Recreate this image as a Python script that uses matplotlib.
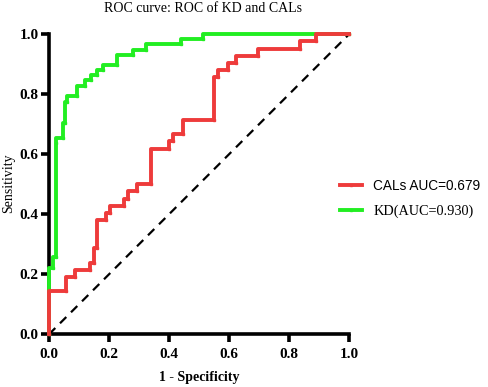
import matplotlib
matplotlib.use("Agg")
import matplotlib.pyplot as plt
from matplotlib.lines import Line2D

# ROC data (1 - specificity, sensitivity)
kd_fpr = [0.0, 0.0, 0.013, 0.013, 0.025, 0.025, 0.047, 0.047, 0.052, 0.052,
          0.060, 0.060, 0.093, 0.093, 0.119, 0.119, 0.141, 0.141, 0.160, 0.160,
          0.180, 0.180, 0.227, 0.227, 0.280, 0.280, 0.325, 0.325, 0.441, 0.441,
          0.513, 0.513, 1.0]
kd_tpr = [0.0, 0.222, 0.222, 0.257, 0.257, 0.637, 0.655, 0.705, 0.705, 0.775,
          0.775, 0.793, 0.793, 0.828, 0.828, 0.848, 0.848, 0.864, 0.864, 0.881,
          0.881, 0.898, 0.898, 0.931, 0.931, 0.948, 0.948, 0.967, 0.967, 0.983,
          0.983, 1.0, 1.0]
kd_fpr[6] = 0.025
kd_fpr.insert(7, 0.047)
kd_tpr.insert(7, 0.655)

cal_fpr = [0.0, 0.0, 0.058, 0.058, 0.086, 0.086, 0.136, 0.136, 0.149, 0.149,
           0.161, 0.161, 0.189, 0.189, 0.202, 0.202, 0.249, 0.249, 0.264, 0.264,
           0.293, 0.293, 0.341, 0.341, 0.400, 0.400, 0.413, 0.413, 0.447, 0.447,
           0.549, 0.549, 0.563, 0.563, 0.597, 0.597, 0.625, 0.625, 0.697, 0.697,
           0.836, 0.836, 0.891, 0.891, 1.0]
cal_tpr = [0.0, 0.143, 0.143, 0.190, 0.190, 0.214, 0.214, 0.238, 0.238, 0.286,
           0.286, 0.381, 0.381, 0.405, 0.405, 0.429, 0.429, 0.452, 0.452, 0.476,
           0.476, 0.500, 0.500, 0.619, 0.619, 0.643, 0.643, 0.667, 0.667, 0.714,
           0.714, 0.857, 0.857, 0.881, 0.881, 0.905, 0.905, 0.929, 0.929, 0.952,
           0.952, 0.976, 0.976, 1.0, 1.0]

labels = ["CALs AUC=0.679", "KD(AUC=0.930)"]
ticks = [0.0, 0.2, 0.4, 0.6, 0.8, 1.0]
tick_labels = ["0.0", "0.2", "0.4", "0.6", "0.8", "1.0"]

RED = "#ee3b3b"
GREEN = "#22ee22"
serif = "Liberation Serif"
sans = "Liberation Sans"

fig = plt.figure(figsize=(4.89, 3.87), dpi=100)
ax = fig.add_axes([0.1002, 0.1362, 0.6135, 0.7752])

ax.plot([0, 1], [0, 1], color="black", lw=1.6, ls=(0, (4, 3)), zorder=2, clip_on=False)
ax.plot(kd_fpr, kd_tpr, color=GREEN, lw=2.8, zorder=3, clip_on=False,
        marker="s", ms=2.0)
ax.plot(cal_fpr, cal_tpr, color=RED, lw=2.8, zorder=4, clip_on=False,
        marker="s", ms=2.0)

ax.set_xlim(0, 1)
ax.set_ylim(0, 1)
for s in ["top", "right"]:
    ax.spines[s].set_visible(False)
for s in ["left", "bottom"]:
    ax.spines[s].set_linewidth(2.6)
    ax.spines[s].set_zorder(1)
ax.set_xticks(ticks)
ax.set_yticks(ticks)
ax.set_xticklabels(tick_labels, fontfamily=serif, fontweight="bold", fontsize=11)
ax.set_yticklabels(tick_labels, fontfamily=serif, fontweight="bold", fontsize=11)
ax.tick_params(axis="both", direction="out", length=6, width=2.6)
ax.tick_params(axis="y", pad=1.5)
ax.tick_params(axis="x", pad=4)

ax.set_xlabel("1 - Specificity", fontfamily=serif, fontweight="bold", fontsize=10, labelpad=7)
fig.text(8.5 / 489, 1 - 183.5 / 387, "Sensitivity", fontfamily=serif, fontsize=10,
         rotation=90, ha="center", va="center")
fig.text(203.5 / 489, 1 - 8 / 387, "ROC curve: ROC of KD and CALs", fontfamily=serif,
         fontsize=10, ha="center", va="center")

handles = [Line2D([], [], color=RED, lw=2.8, marker="s", ms=2.0),
           Line2D([], [], color=GREEN, lw=2.8, marker="s", ms=2.0)]
leg = ax.legend(handles, labels, loc="center left", bbox_to_anchor=(0.97, 0.453),
                frameon=False, handlelength=1.6, handletextpad=0.8,
                labelspacing=0.85, borderaxespad=0, borderpad=0)
texts = leg.get_texts()
texts[0].set_fontfamily(sans)
texts[0].set_fontsize(9.8)
texts[1].set_fontfamily(serif)
texts[1].set_fontsize(10.3)

fig.savefig("out.png", dpi=100)
